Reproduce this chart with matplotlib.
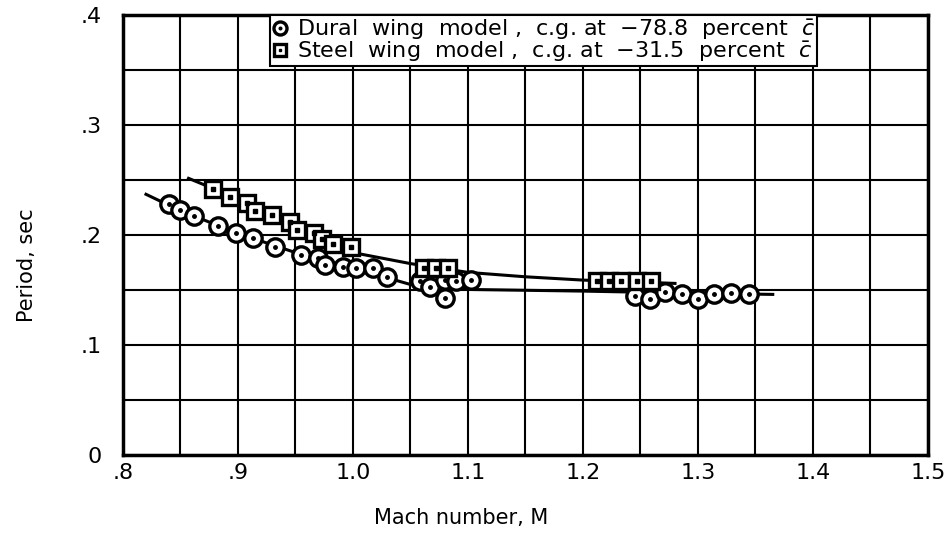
import matplotlib
matplotlib.use("Agg")
import matplotlib.pyplot as plt
import numpy as np

# Dural wing model (circles)
dural_mach = [0.840, 0.850, 0.862, 0.883, 0.898, 0.913, 0.932, 0.955, 0.970, 0.976,
              0.991, 1.003, 1.017, 1.030, 1.058, 1.067, 1.080, 1.080, 1.090, 1.103,
              1.245, 1.258, 1.271, 1.286, 1.300, 1.314, 1.329, 1.344]
dural_period = [0.228, 0.223, 0.217, 0.208, 0.202, 0.197, 0.189, 0.182, 0.179, 0.173,
                0.171, 0.170, 0.170, 0.162, 0.158, 0.153, 0.159, 0.143, 0.158, 0.159,
                0.145, 0.142, 0.148, 0.146, 0.142, 0.146, 0.147, 0.146]

# Steel wing model (squares)
steel_mach = [0.878, 0.893, 0.908, 0.915, 0.930, 0.945, 0.951, 0.966, 0.973, 0.983,
              0.998, 1.062, 1.072, 1.083, 1.2125, 1.223, 1.233, 1.247, 1.259]
steel_period = [0.242, 0.235, 0.229, 0.222, 0.218, 0.212, 0.2045, 0.2015, 0.196, 0.192,
                0.189, 0.170, 0.170, 0.170, 0.158, 0.158, 0.158, 0.158, 0.158]

# Faired curves
dural_fair_mach = [0.82, 0.85, 0.90, 0.95, 1.00, 1.05, 1.10, 1.20, 1.30, 1.365]
dural_fair_period = [0.237, 0.222, 0.2015, 0.184, 0.170, 0.155, 0.1505, 0.149, 0.147, 0.146]
steel_fair_mach = [0.857, 0.90, 0.95, 1.00, 1.05, 1.10, 1.15, 1.20, 1.28]
steel_fair_period = [0.2515, 0.233, 0.209, 0.184, 0.174, 0.166, 0.162, 0.159, 0.156]

x_ticks = [0.8, 0.9, 1.0, 1.1, 1.2, 1.3, 1.4, 1.5]
x_labels = [".8", ".9", "1.0", "1.1", "1.2", "1.3", "1.4", "1.5"]
y_ticks = [0, 0.1, 0.2, 0.3, 0.4]
y_labels = ["0", ".1", ".2", ".3", ".4"]

plt.rcParams['font.family'] = ['DejaVu Sans']
fig = plt.figure(figsize=(9.52, 5.38), dpi=100)
ax = fig.add_axes([123/952, 1 - 455/538, (928-123)/952, (455-15)/538])

ax.set_xlim(0.8, 1.5)
ax.set_ylim(0, 0.4)
ax.set_xticks(np.arange(0.8, 1.5001, 0.05), minor=True)
ax.set_yticks(np.arange(0, 0.4001, 0.05), minor=True)
ax.grid(which='both', color='black', linewidth=1.5)
ax.set_axisbelow(True)
ax.set_xticks(x_ticks)
ax.set_xticklabels(x_labels)
ax.set_yticks(y_ticks)
ax.set_yticklabels(y_labels)
ax.tick_params(which='both', length=0, labelsize=16)
ax.tick_params(axis='x', pad=6)
ax.tick_params(axis='y', pad=15)
for s in ax.spines.values():
    s.set_linewidth(2.5)

ax.plot(dural_fair_mach, dural_fair_period, color='black', lw=2.2, zorder=3)
ax.plot(steel_fair_mach, steel_fair_period, color='black', lw=2.2, zorder=3)

c1, = ax.plot(dural_mach, dural_period, 'o', ms=12.5, mfc='white', mec='black', mew=2.4,
              ls='none', zorder=4)
d1, = ax.plot(dural_mach, dural_period, 'o', ms=2.5, color='black', ls='none', zorder=5)
s1, = ax.plot(steel_mach, steel_period, 's', ms=11, mfc='white', mec='black', mew=2.4,
              ls='none', zorder=4)
d2, = ax.plot(steel_mach, steel_period, 's', ms=2.5, color='black', ls='none', zorder=5)

leg = ax.legend([(c1, d1), (s1, d2)],
                ["Dural  wing  model ,  c.g. at  \u221278.8  percent  $\\bar{c}$",
                 "Steel  wing  model ,  c.g. at  \u221231.5  percent  $\\bar{c}$"],
                loc='upper left', bbox_to_anchor=(0.183, 1.0), fontsize=16,
                frameon=True, fancybox=False, framealpha=1, edgecolor='black',
                handlelength=0.7, handletextpad=0.4, borderpad=0.1,
                labelspacing=-0.1, borderaxespad=0, markerscale=0.75)
leg.get_frame().set_linewidth(1.5)

ax.set_xlabel("Mach number, M", fontsize=15)
ax.xaxis.set_label_coords(0.42, -0.12)
ax.set_ylabel("Period, sec", fontsize=15)
ax.yaxis.set_label_coords(-0.107, 0.432)

fig.savefig("out.png", dpi=100)
